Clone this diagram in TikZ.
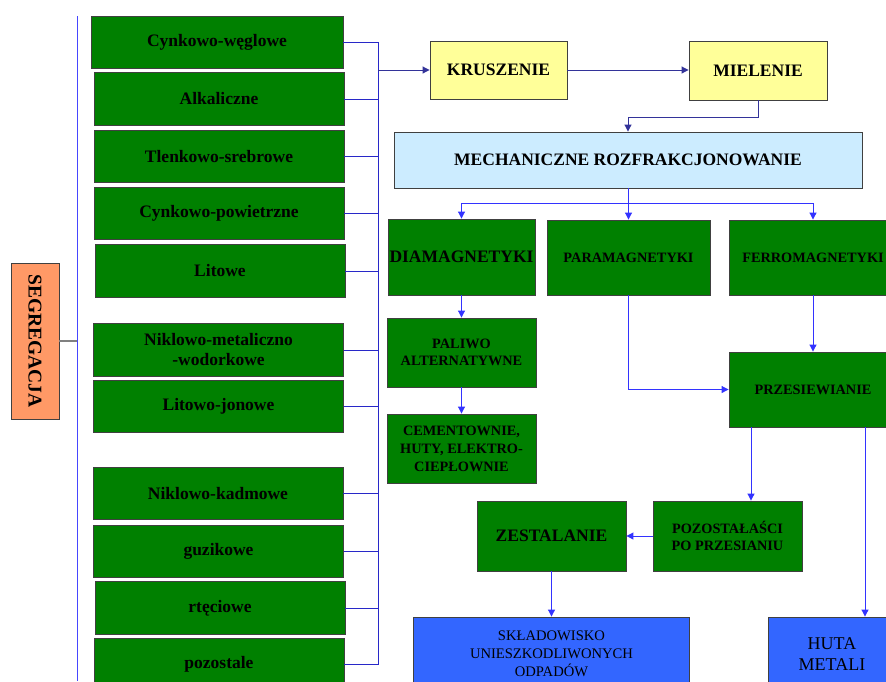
\documentclass[tikz,border=0pt]{standalone}
\usepackage{fontspec}
\setmainfont{Liberation Serif}
\usetikzlibrary{arrows.meta}
\definecolor{gr}{RGB}{0,128,0}
\definecolor{yl}{RGB}{255,255,153}
\definecolor{lb}{RGB}{204,236,255}
\definecolor{bb}{RGB}{51,102,255}
\definecolor{og}{RGB}{255,153,102}
\definecolor{lnc}{RGB}{51,51,255}
\definecolor{lvc}{RGB}{70,70,255}
\definecolor{brc}{RGB}{40,40,200}
\definecolor{nv}{RGB}{51,51,153}
\definecolor{bd}{RGB}{64,64,64}
\begin{document}
\begin{tikzpicture}[x=1pt,y=-1pt,
  box/.style={draw=bd, line width=0.9pt, inner sep=0pt, align=center,
    font=\bfseries\fontsize{17.5}{20}\selectfont},
  gbox/.style={box, fill=gr},
  lbox/.style={gbox, minimum width=250pt, minimum height=52.5pt},
  medtext/.style={font=\bfseries\fontsize{14.3}{17.5}\selectfont},
  conn/.style={draw=lnc, line width=1pt},
  arr/.style={draw=lnc, line width=1pt, -{Triangle[length=7pt,width=7pt]}},
]
\useasboundingbox (0,0) rectangle (886,681);
\clip (0,0) rectangle (886,681);
\fill[white] (0,0) rectangle (886,681);

% left column
\node[box, fill=og, minimum width=156pt, minimum height=48pt, rotate=-90,
  font=\bfseries\fontsize{19.5}{22}\selectfont] (seg) at (35,341) {SEGREGACJA};
\coordinate (lvt) at (77,16);
\coordinate (lvb) at (77,681);
\draw[conn, draw=lvc] (lvt) -- (lvb);
\draw[draw=gray, line width=1.2pt] (seg.north) -- (seg.north -| lvt);

\node[gbox, minimum width=252pt, minimum height=52pt] (b1) at (217,42) {Cynkowo-węglowe};
\node[lbox] (b2) at (219,99) {Alkaliczne};
\node[lbox] (b3) at (219,156.5) {Tlenkowo-srebrowe};
\node[lbox] (b4) at (219,213.5) {Cynkowo-powietrzne};
\node[lbox] (b5) at (220,271) {Litowe};
\node[lbox] (b6) at (218.5,350) {Niklowo-metaliczno\\-wodorkowe};
\node[lbox] (b7) at (218.5,406.5) {Litowo-jonowe};
\node[lbox] (b8) at (218,493.5) {Niklowo-kadmowe};
\node[lbox] (b9) at (218.5,551.5) {guzikowe};
\node[lbox] (b10) at (220,608) {rtęciowe};
\node[lbox] (b11) at (219,664.5) {pozostale};

\coordinate (brk) at (378,0);
\foreach \b in {b1,b2,b3,b4,b5,b6,b7,b8,b9,b10,b11}
  \draw[conn, draw=brc] (\b.east) -- (\b.east -| brk);
\draw[conn, draw=brc] (b1.east -| brk) -- (b11.east -| brk);

% top row
\node[box, fill=yl, minimum width=137pt, minimum height=58pt] (kru) at (498.5,70) {KRUSZENIE};
\node[box, fill=yl, minimum width=138pt, minimum height=59pt] (mie) at (758,70.5) {MIELENIE};
\draw[arr, draw=nv] (kru.west -| brk) -- (kru.west);
\draw[arr, draw=nv] (kru.east) -- (kru.east -| mie.west);

\node[box, fill=lb, minimum width=468pt, minimum height=56pt] (mech) at (628,160) {MECHANICZNE ROZFRAKCJONOWANIE};
\draw[arr, draw=nv] (mie.south) -- ++(0,17) -| (mech.north);

% magnetics
\node[gbox, minimum width=147pt, minimum height=76pt] (dia) at (461.5,257) {DIAMAGNETYKI};
\node[gbox, medtext, minimum width=163pt, minimum height=75pt] (para) at (628.5,257.5) {PARAMAGNETYKI};
\node[gbox, medtext, minimum width=168pt, minimum height=75pt] (ferro) at (813,257.5) {FERROMAGNETYKI};
\coordinate (split) at (628,203);
\draw[conn] (mech.south) -- (split);
\draw[arr] (split) -| (dia.north);
\draw[arr] (split) -| (ferro.north);
\draw[arr] (split) -- (split -| para.north) -- (para.north);

\node[gbox, medtext, minimum width=149pt, minimum height=69pt] (pal) at (461.5,352.5) {PALIWO\\ALTERNATYWNE};
\node[gbox, medtext, minimum width=149pt, minimum height=69pt, font=\bfseries\fontsize{14.3}{18}\selectfont] (cem) at (461.5,448.5) {CEMENTOWNIE,\\HUTY, ELEKTRO-\\CIEPŁOWNIE};
\draw[arr] (dia.south) -- (pal.north);
\draw[arr] (pal.south) -- (cem.north);

\node[gbox, medtext, minimum width=168pt, minimum height=75pt] (prz) at (813,389.5) {PRZESIEWIANIE};
\draw[arr] (para.south) |- (prz.west);
\draw[arr] (ferro.south) -- (prz.north);

\node[gbox, medtext, minimum width=149pt, minimum height=70pt] (poz) at (727.5,536) {POZOSTAŁAŚCI\\PO PRZESIANIU};
\node[gbox, minimum width=149pt, minimum height=70pt] (zes) at (551.5,536) {ZESTALANIE};
\draw[arr] ([xshift=-62pt]prz.south) -- ([xshift=23.5pt]poz.north);
\draw[arr] (poz.west) -- (zes.east);

\node[box, fill=bb, minimum width=276pt, minimum height=74pt,
  font=\fontsize{14.6}{18}\selectfont] (skl) at (551.5,654) {SKŁADOWISKO\\UNIESZKODLIWONYCH\\ODPADÓW};
\node[box, fill=bb, minimum width=128pt, minimum height=74pt,
  font=\fontsize{18}{21}\selectfont] (huta) at (832,654) {HUTA\\METALI};
\draw[arr] (zes.south) -- (skl.north);
\draw[arr] ([xshift=52pt]prz.south) -- ([xshift=52pt]prz.south |- huta.north);
\end{tikzpicture}
\end{document}
